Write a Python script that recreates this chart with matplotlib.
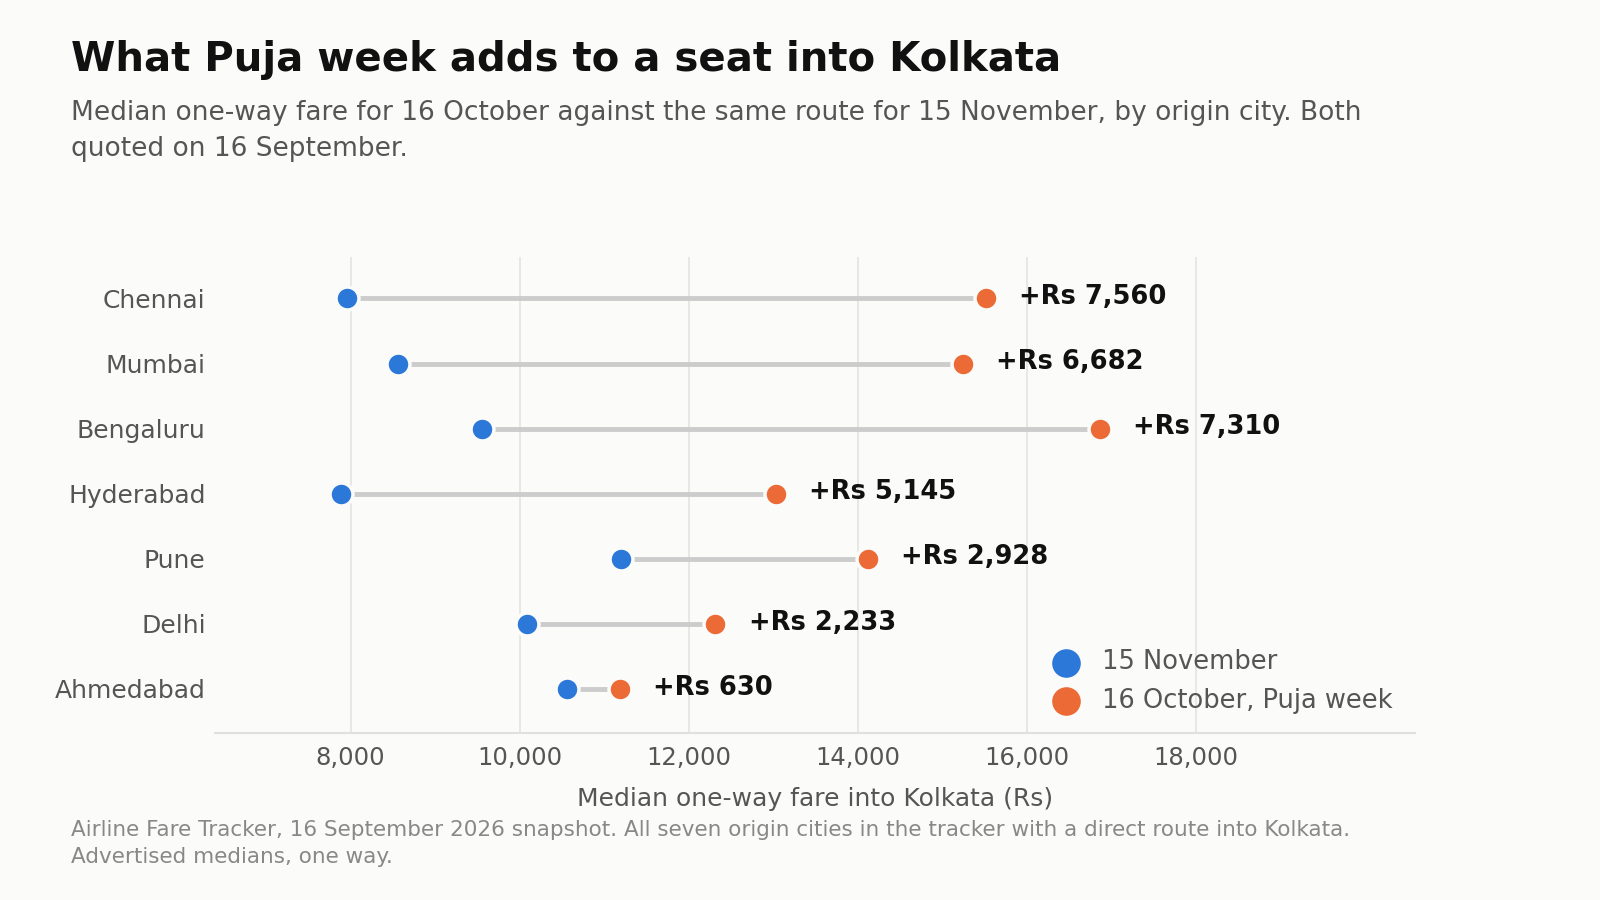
import numpy as np
import matplotlib.pyplot as plt

cities = ['Chennai', 'Mumbai', 'Bengaluru', 'Hyderabad', 'Pune', 'Delhi', 'Ahmedabad']
fare_nov = [7960, 8565, 9560, 7890, 11195, 10085, 10560]
fare_oct = [15520, 15247, 16870, 13035, 14123, 12318, 11190]
gaps = [7560, 6682, 7310, 5145, 2928, 2233, 630]
xticks = [8000, 10000, 12000, 14000, 16000, 18000]

blue = '#2b78d8'
orange = '#ec6a36'
bg = '#fbfbf9'

fig = plt.figure(figsize=(16, 9), dpi=100, facecolor=bg)
ax = fig.add_axes([0.1346, 0.186, 0.75, 0.528], facecolor=bg)

y = np.arange(len(cities))
ax.hlines(y, fare_nov, fare_oct, color='#cccccc', lw=3.5, zorder=2)
ax.scatter(fare_nov, y, s=16.5**2, color=blue, edgecolor=bg, linewidth=2.5, zorder=3, label='15 November')
ax.scatter(fare_oct, y, s=16.5**2, color=orange, edgecolor=bg, linewidth=2.5, zorder=3, label='16 October, Puja week')

for yi, xo, g in zip(y, fare_oct, gaps):
    ax.annotate(f'+Rs {g:,}', (xo, yi), xytext=(24, 1), textcoords='offset points',
                va='center', ha='left', fontsize=18.5, fontweight='bold', color='#111111')

ax.set_xlim(6400, 20600)
ax.set_ylim(len(cities) - 0.33, -0.63)
ax.set_yticks(y)
ax.set_yticklabels(cities)
ax.set_xticks(xticks)
ax.set_xticklabels([f'{t:,}' for t in xticks])
ax.tick_params(axis='both', length=0, labelcolor='#555555')
ax.tick_params(axis='x', pad=10, labelsize=17.5)
ax.tick_params(axis='y', pad=7, labelsize=18)
ax.grid(axis='x', color='#e4e4e2', lw=1.2, zorder=0)
ax.set_axisbelow(True)
for s in ['top', 'right', 'left']:
    ax.spines[s].set_visible(False)
ax.spines['bottom'].set_color('#e0e0dc')
ax.spines['bottom'].set_linewidth(1.5)

ax.set_xlabel('Median one-way fare into Kolkata (Rs)', fontsize=18, color='#555555', labelpad=12)

leg = ax.legend(loc='lower right', bbox_to_anchor=(1.0, -0.01), frameon=False, fontsize=18.5,
                markerscale=1.4, handletextpad=0.4, labelspacing=0.5)
for t in leg.get_texts():
    t.set_color('#555555')

fig.text(0.0446, 0.921, 'What Puja week adds to a seat into Kolkata', fontsize=29,
         fontweight='bold', color='#111111', va='baseline')
fig.text(0.0446, 0.889, 'Median one-way fare for 16 October against the same route for 15 November, by origin city. Both\nquoted on 16 September.',
         fontsize=19, color='#555555', va='top', linespacing=1.5)
fig.text(0.0446, 0.089, 'Airline Fare Tracker, 16 September 2026 snapshot. All seven origin cities in the tracker with a direct route into Kolkata.\nAdvertised medians, one way.',
         fontsize=15.5, color='#888888', va='top', linespacing=1.45)

fig.savefig('out.png', dpi=100, facecolor=bg)
